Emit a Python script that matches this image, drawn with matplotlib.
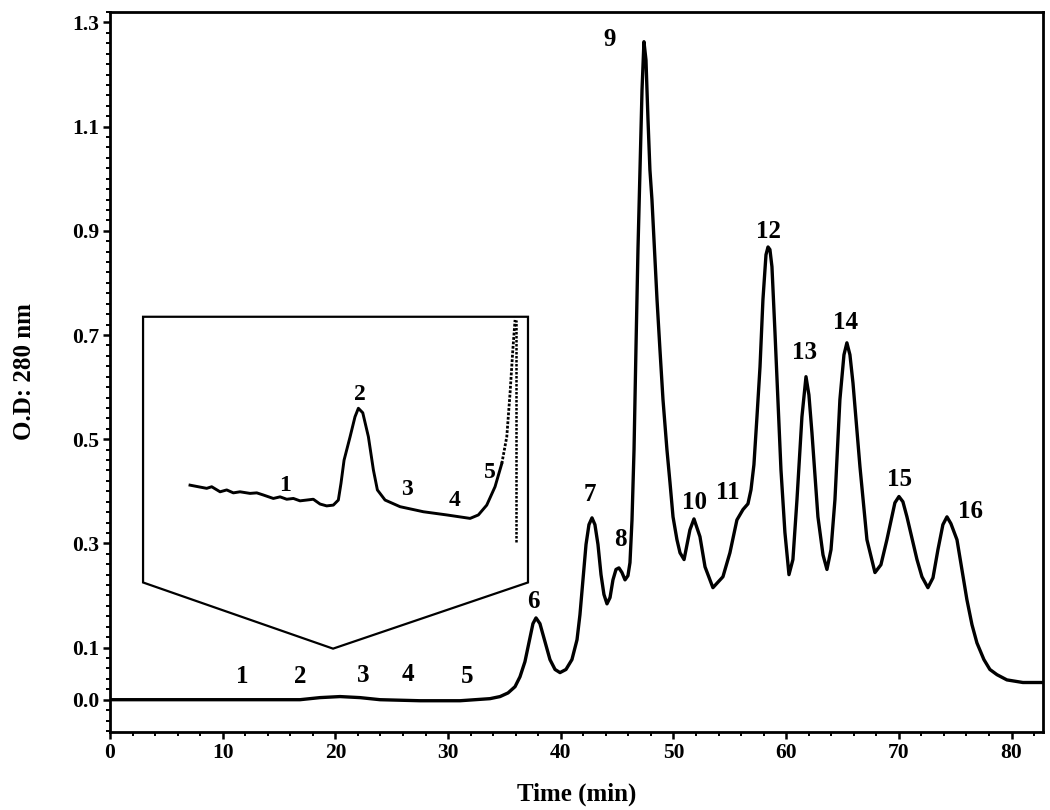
import matplotlib
matplotlib.use('Agg')
import matplotlib.pyplot as plt
from matplotlib.patches import Polygon
from matplotlib.ticker import MultipleLocator, FixedLocator, FormatStrFormatter

# main chromatogram
time_min = [0.00, 7.99, 16.86, 18.63, 20.41, 22.18, 23.96, 27.51, 31.06, 33.72,
            34.61, 35.32, 35.94, 36.38, 36.82, 37.27, 37.53, 37.80, 38.15, 38.60,
            39.04, 39.49, 39.93, 40.46, 40.99, 41.44, 41.70, 41.97, 42.24, 42.50,
            42.77, 43.03, 43.30, 43.57, 43.83, 44.10, 44.37, 44.63, 44.90, 45.16,
            45.43, 45.70, 45.96, 46.14, 46.32, 46.50, 46.67, 46.85, 47.03, 47.21,
            47.38, 47.56, 47.74, 47.91, 48.09, 48.36, 48.54, 48.80, 49.07, 49.42,
            49.69, 49.96, 50.31, 50.58, 50.94, 51.46, 51.82, 52.35, 52.80, 53.50,
            54.39, 55.01, 55.63, 56.17, 56.61, 56.88, 57.14, 57.41, 57.68, 57.94,
            58.21, 58.39, 58.56, 58.74, 59.01, 59.27, 59.54, 59.89, 60.25, 60.60,
            60.96, 61.40, 61.76, 62.02, 62.29, 62.82, 63.27, 63.62, 63.98, 64.33,
            64.77, 65.13, 65.39, 65.66, 65.93, 66.55, 67.17, 67.88, 68.41, 68.94,
            69.65, 70.01, 70.36, 70.72, 71.61, 72.05, 72.58, 73.03, 73.47, 73.91,
            74.27, 74.62, 75.16, 76.04, 76.49, 76.93, 77.55, 78.08, 78.71, 79.59,
            81.01, 82.79]
od_280 = [0.000, 0.000, 0.000, 0.004, 0.006, 0.004, 0.000, -0.002, -0.002, 0.002,
          0.006, 0.013, 0.025, 0.044, 0.073, 0.119, 0.146, 0.157, 0.146, 0.111,
          0.077, 0.058, 0.052, 0.058, 0.077, 0.115, 0.163, 0.230, 0.298, 0.336,
          0.349, 0.336, 0.298, 0.240, 0.202, 0.184, 0.196, 0.230, 0.250, 0.253,
          0.244, 0.230, 0.238, 0.263, 0.345, 0.480, 0.672, 0.864, 1.017, 1.171,
          1.263, 1.228, 1.113, 1.017, 0.960, 0.845, 0.768, 0.672, 0.576, 0.480,
          0.417, 0.351, 0.307, 0.282, 0.269, 0.326, 0.347, 0.313, 0.255, 0.215,
          0.236, 0.282, 0.345, 0.365, 0.376, 0.403, 0.451, 0.543, 0.639, 0.768,
          0.854, 0.869, 0.864, 0.831, 0.704, 0.576, 0.441, 0.321, 0.240, 0.269,
          0.384, 0.543, 0.620, 0.585, 0.512, 0.351, 0.278, 0.250, 0.288, 0.384,
          0.576, 0.662, 0.685, 0.662, 0.608, 0.447, 0.307, 0.244, 0.259, 0.307,
          0.378, 0.390, 0.380, 0.351, 0.269, 0.236, 0.215, 0.234, 0.288, 0.336,
          0.351, 0.338, 0.307, 0.192, 0.144, 0.109, 0.077, 0.058, 0.048, 0.038,
          0.033, 0.033]

# peak numbers on the main trace
peak_names = ['1', '2', '3', '4', '5', '6', '7', '8', '9', '10', '11', '12', '13', '14', '15', '16']
peak_x = [11.71, 16.86, 22.45, 26.44, 31.68, 37.53, 42.59, 45.25, 44.37, 51.91,
          54.84, 58.47, 61.67, 65.31, 70.10, 76.40]
peak_y = [0.044, 0.044, 0.046, 0.048, 0.044, 0.188, 0.393, 0.307, 1.267, 0.378,
          0.397, 0.898, 0.666, 0.724, 0.422, 0.361]

# magnified view of the 5-37 min region (relative units)
inset_time = [5.00, 5.81, 6.63, 7.12, 7.94, 8.59, 9.24, 9.89, 10.87, 11.53,
              12.17, 13.15, 13.81, 14.46, 15.11, 15.76, 16.42, 17.06, 17.72, 18.37,
              19.02, 19.51, 19.77, 20.07, 20.66, 21.14, 21.47, 21.90, 22.45, 22.94,
              23.33, 24.08, 25.55, 27.83, 30.12, 32.40, 33.21, 34.03, 34.84, 35.50]
inset_abs = [36.8, 36.2, 35.6, 36.2, 34.3, 35.0, 33.9, 34.3, 33.7, 33.9,
             33.1, 31.8, 32.4, 31.5, 31.8, 30.9, 31.2, 31.5, 29.7, 29.0,
             29.3, 31.2, 37.5, 46.2, 55.0, 62.5, 65.7, 64.0, 55.0, 42.5,
             35.0, 31.2, 28.7, 26.8, 25.6, 24.3, 25.6, 29.3, 36.2, 44.9]
inset_rise_time = [35.50, 35.99, 36.31, 36.58, 36.80]
inset_rise_abs = [44.9, 55.0, 71.4, 87.6, 98.9]
inset_marker_time = [36.90, 36.90]
inset_marker_abs = [15.4, 98.9]

inset_names = ['1', '2', '3', '4', '5']
inset_lx = [14.30, 21.60, 26.20, 30.90, 34.35]
inset_ly = [36.8, 70.7, 35.0, 31.2, 41.4]

# outline drawn round the magnified view, in main axis units
frame_x = [2.93, 37.09, 37.09, 19.79, 2.93]
frame_y = [0.735, 0.735, 0.225, 0.098, 0.225]


def plot():

    plt.rcParams['font.family'] = 'Liberation Serif'
    plt.rcParams['font.weight'] = 'bold'

    fig = plt.figure(figsize=(10.5, 8.1), dpi=100)
    ax = fig.add_axes([0.1048, 0.0963, 0.8885, 0.8889])

    ax.plot(time_min, od_280, color='black', linewidth=2.4, solid_joinstyle='round')

    for name, x, y in zip(peak_names, peak_x, peak_y):
        ax.text(x, y, name, fontsize=18, fontweight='bold', ha='center', va='center')

    ax.add_patch(Polygon(list(zip(frame_x, frame_y)), closed=True, fill=False,
                         edgecolor='black', linewidth=1.6))

    ax.set_xlim(0, 82.79)
    ax.set_ylim(-0.062, 1.32)
    ax.xaxis.set_major_locator(MultipleLocator(10))
    ax.xaxis.set_minor_locator(MultipleLocator(2))
    ax.yaxis.set_major_locator(FixedLocator([0.0, 0.1, 0.3, 0.5, 0.7, 0.9, 1.1, 1.3]))
    ax.yaxis.set_minor_locator(MultipleLocator(0.02))
    ax.yaxis.set_major_formatter(FormatStrFormatter('%.1f'))

    ax.tick_params(which='major', direction='out', length=5, width=1.8, labelsize=15.5, pad=3)
    ax.tick_params(which='minor', direction='out', length=3, width=1.4)
    for label in ax.get_xticklabels() + ax.get_yticklabels():
        label.set_fontweight('bold')

    for spine in ax.spines.values():
        spine.set_linewidth(2.0)

    ax.set_xlabel('Time (min)', fontsize=18, fontweight='bold', labelpad=14)
    ax.set_ylabel('O.D: 280 nm', fontsize=18, fontweight='bold', labelpad=26)

    # magnified view
    ins = fig.add_axes([0.1362, 0.2802, 0.3667, 0.3284])
    ins.plot(inset_time, inset_abs, color='black', linewidth=2.1, solid_joinstyle='round')
    ins.plot(inset_rise_time, inset_rise_abs, color='black', linewidth=2.0, linestyle=(0, (1, 0.6)))
    ins.plot(inset_marker_time, inset_marker_abs, color='black', linewidth=1.8, linestyle=(0, (1, 0.6)))
    for name, x, y in zip(inset_names, inset_lx, inset_ly):
        ins.text(x, y, name, fontsize=17, fontweight='bold', ha='center', va='center')
    ins.set_xlim(0.40, 38.07)
    ins.set_ylim(0, 100)
    ins.axis('off')

    fig.savefig('out.png', dpi=100)


if __name__ == "__main__":

    plot()
